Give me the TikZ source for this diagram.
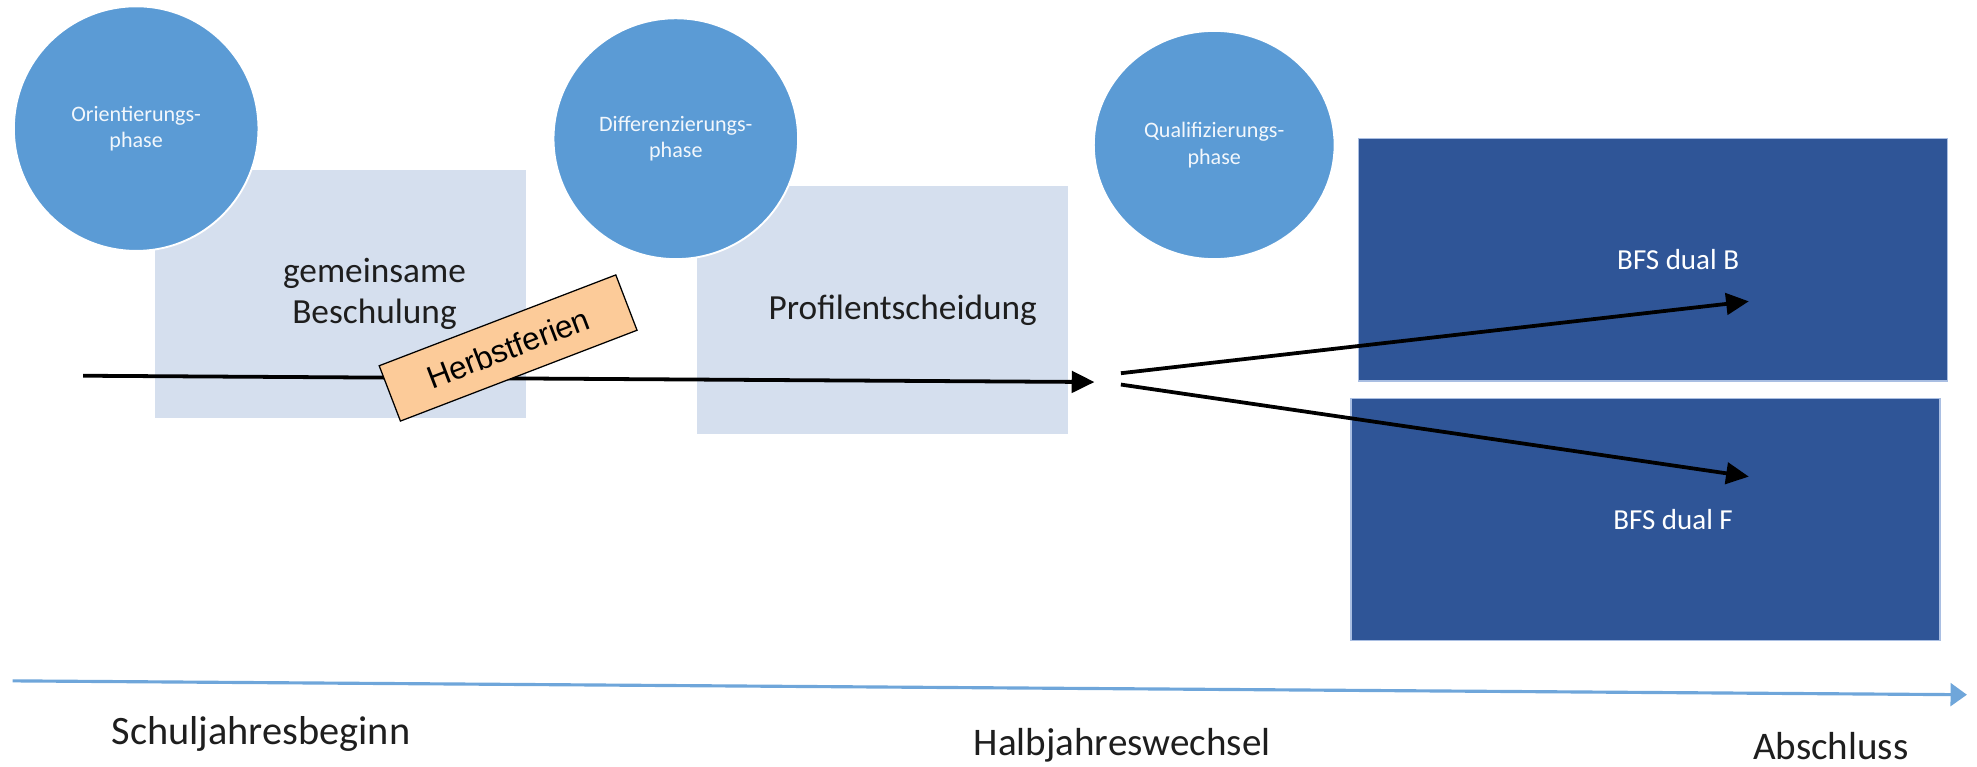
\documentclass[tikz,border=0pt]{standalone}
\usepackage{fontspec}
\setmainfont{Carlito}
\newfontfamily\arialfont{Liberation Sans}
\usepackage{tikz}
\usetikzlibrary{positioning, arrows.meta, shapes.geometric}
\definecolor{phaseblue}{HTML}{5B9BD5}
\definecolor{stageblue}{HTML}{D5DFEE}
\definecolor{dualblue}{HTML}{2F5597}
\definecolor{dualrim}{HTML}{A9BEE2}
\definecolor{holiday}{HTML}{FCCB99}
\definecolor{axisblue}{HTML}{6FA6DA}
\definecolor{stageink}{HTML}{1E1E1E}

\begin{document}
\begin{tikzpicture}[
  x=1pt, y=-1pt,
  phase/.style={ellipse, fill=phaseblue, draw=white, line width=1.5pt, minimum width=194pt, minimum height=194pt, align=center, text=white!92!phaseblue, font=\fontsize{17.5}{21}\selectfont, inner sep=0pt},
  stage/.style={fill=stageblue, minimum width=294pt, minimum height=197pt, inner sep=0pt},
  stagetext/.style={align=center, text=stageink, font=\fontsize{28}{33}\selectfont},
  dual/.style={fill=dualblue, draw=dualrim, line width=1.2pt, minimum width=467pt, minimum height=192pt, inner sep=0pt},
  dualtext/.style={text=white, font=\fontsize{23}{28}\selectfont},
  ferien/.style={draw=black, line width=1pt, fill=holiday, rotate=21, minimum width=201pt, minimum height=47pt, inner sep=0pt, font=\arialfont\fontsize{25}{28}\selectfont},
  milestone/.style={text=stageink, font=\fontsize{32}{36}\selectfont},
  flow/.style={-{Triangle[length=18pt, width=17pt]}, line width=3pt, black},
  axisline/.style={-{Triangle[length=13pt, width=18pt]}, line width=2.5pt, axisblue}
]
  \useasboundingbox (0,0) rectangle (1568,608);

  % stage boxes
  \node[stage, label={[stagetext, xshift=27pt]center:gemeinsame\\Beschulung}] (beschulung) at (270,233) {};
  \node[stage, label={[stagetext, xshift=16pt]center:Profilentscheidung}] (profil) at (700,246) {};
  \node[dual, label={[dualtext, xshift=20pt]center:BFS dual B}] (dualB) at (1311,206) {};
  \node[dual, label={[dualtext, xshift=22pt]center:BFS dual F}] (dualF) at (1305,412) {};

  % phase circles
  \node[phase] (orient) at (108,102) {Orientierungs-\\phase};
  \node[phase, minimum height=191pt] (diff) at (536,110) {Differenzierungs-\\phase};
  \node[phase, minimum width=191pt, minimum height=181pt] (quali) at (963,115) {Qualifizierungs-\\phase};

  % main flow
  \coordinate (tlstart) at (66,298);
  \coordinate (tlend) at (868,303);
  \coordinate (forkB) at (889,296);
  \coordinate (forkF) at (889,305);
  \coordinate (tipB) at (1387,239);
  \coordinate (tipF) at (1387,378);
  \draw[flow] (tlstart) -- (tlend);
  \draw[flow] (forkB) -- (tipB);
  \draw[flow] (forkF) -- (tipF);

  \node[ferien] (herbst) at (403,276) {Herbstferien};

  % time axis
  \coordinate (axstart) at (10,540);
  \coordinate (axend) at (1560,551);
  \draw[axisline] (axstart) -- (axend);
  \node[milestone] (beginn) at (207,582) {Schuljahresbeginn};
  \node[milestone, font=\fontsize{31}{36}\selectfont] (halbjahr) at (890,591) {Halbjahreswechsel};
  \node[milestone, font=\fontsize{31}{36}\selectfont] (abschluss) at (1452,592) {Abschluss};
\end{tikzpicture}
\end{document}
